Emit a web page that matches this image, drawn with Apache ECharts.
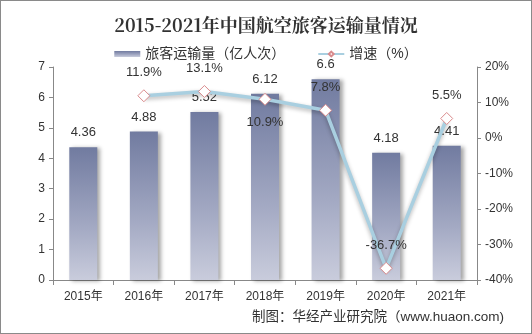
<!DOCTYPE html>
<html><head><meta charset="utf-8">
<script src="https://cdn.jsdelivr.net/npm/echarts@6/dist/echarts.min.js"></script>
<style>html,body{margin:0;padding:0;background:#fff}#c{width:532px;height:334px;box-sizing:border-box;border:1px solid #8a8a8a}</style>
</head><body><div id="c"></div>
<script>
const categories = ['2015年','2016年','2017年','2018年','2019年','2020年','2021年'];
const volume = [4.36, 4.88, 5.52, 6.12, 6.6, 4.18, 4.41];
const growth = [null, 11.9, 13.1, 10.9, 7.8, -36.7, 5.5];
const growthLabelPos = [null, 'top', 'top', 'bottom', 'top', 'top', 'top'];

const chart = echarts.init(document.getElementById('c'));
const font = 'Arial, "Liberation Sans", "Noto Sans CJK SC", sans-serif';
chart.setOption({
  animation: false,
  title: {
    text: '2015-2021年中国航空旅客运输量情况',
    left: 'center', top: 10,
    textStyle: {fontSize: 18, fontWeight: 'bold', color: '#333', fontFamily: '"Noto Serif CJK SC", "DejaVu Serif", "Noto Sans CJK SC", serif'}
  },
  legend: {
    top: 41, left: 'center', itemGap: 32, itemWidth: 26, itemHeight: 6,
    textStyle: {fontSize: 14, color: '#333', fontFamily: font},
    data: [
      {name: '旅客运输量（亿人次）', icon: 'rect'},
      {name: '增速（%）'}
    ]
  },
  grid: {left: 52, right: 54, top: 66, bottom: 53},
  xAxis: {
    type: 'category', data: categories,
    axisLine: {lineStyle: {color: '#888'}},
    axisTick: {show: true, length: 5, lineStyle: {color: '#888'}},
    axisLabel: {color: '#333', fontSize: 12, margin: 11, fontFamily: font}
  },
  yAxis: [
    {type: 'value', min: 0, max: 7, interval: 1,
     axisLine: {show: true, lineStyle: {color: '#888'}},
     axisTick: {show: true, length: 4, lineStyle: {color: '#888'}},
     splitLine: {show: false},
     axisLabel: {color: '#333', fontSize: 12, fontFamily: font}},
    {type: 'value', min: -40, max: 20, interval: 10,
     axisLine: {show: true, lineStyle: {color: '#888'}},
     axisTick: {show: true, length: 4, lineStyle: {color: '#888'}},
     splitLine: {show: false},
     axisLabel: {color: '#333', fontSize: 12, formatter: '{value}%', fontFamily: font}}
  ],
  series: [
    {
      name: '旅客运输量（亿人次）', type: 'bar', data: volume, barWidth: 28,
      itemStyle: {
        color: new echarts.graphic.LinearGradient(0, 0, 0, 1, [
          {offset: 0, color: '#717ba0'},
          {offset: 0.6, color: '#a3a9c3'},
          {offset: 1, color: '#c9ccdc'}
        ]),
        shadowColor: 'rgba(0,0,0,0.35)', shadowBlur: 4, shadowOffsetX: 3, shadowOffsetY: 1
      },
      label: {show: true, position: 'top', distance: 8, color: '#333', fontSize: 13, fontFamily: font}
    },
    {
      name: '增速（%）', type: 'line', yAxisIndex: 1,
      data: growth.map((v, i) => v === null ? null : {value: v, label: {position: growthLabelPos[i]}}),
      symbol: 'diamond', symbolSize: 12,
      lineStyle: {color: '#a9cfe0', width: 3.5, shadowColor: 'rgba(0,0,0,0.3)', shadowBlur: 4, shadowOffsetY: 2},
      itemStyle: {color: '#ffffff', borderColor: '#d98a8c', borderWidth: 1},
      label: {show: true, distance: 10, color: '#333', fontSize: 13, fontFamily: font, formatter: p => p.value + '%'},
      z: 5
    }
  ],
  graphic: [
    {type: 'text', right: 27, top: 310, style: {text: '制图：华经产业研究院（www.huaon.com)', fontSize: 13.5, fill: '#333', fontFamily: font}}
  ]
});
</script></body></html>
